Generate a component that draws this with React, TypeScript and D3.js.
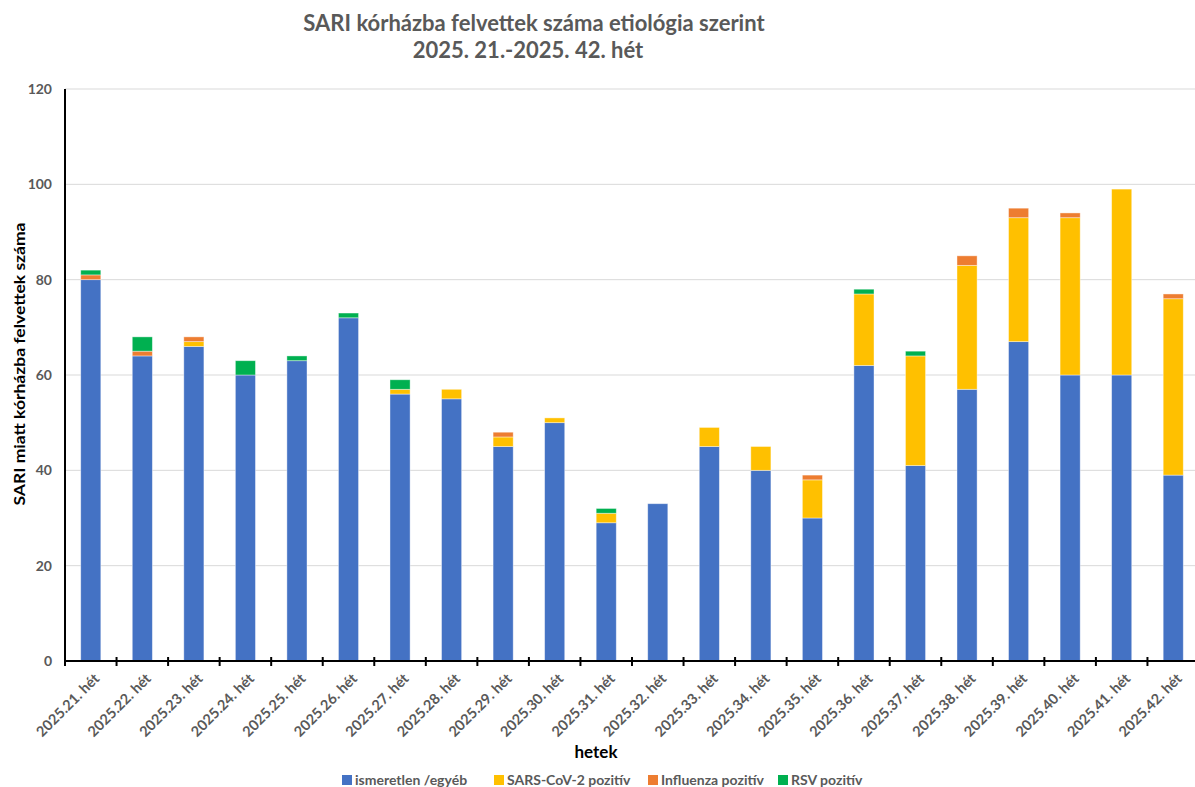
import * as d3 from "d3";

const weeks = [
  "2025.21. hét", "2025.22. hét", "2025.23. hét", "2025.24. hét", "2025.25. hét",
  "2025.26. hét", "2025.27. hét", "2025.28. hét", "2025.29. hét", "2025.30. hét",
  "2025.31. hét", "2025.32. hét", "2025.33. hét", "2025.34. hét", "2025.35. hét",
  "2025.36. hét", "2025.37. hét", "2025.38. hét", "2025.39. hét", "2025.40. hét",
  "2025.41. hét", "2025.42. hét",
];

const unknown = [80, 64, 66, 60, 63, 72, 56, 55, 45, 50, 29, 33, 45, 40, 30, 62, 41, 57, 67, 60, 60, 39];
const sarsCov2 = [0, 0, 1, 0, 0, 0, 1, 2, 2, 1, 2, 0, 4, 5, 8, 15, 23, 26, 26, 33, 39, 37];
const influenza = [1, 1, 1, 0, 0, 0, 0, 0, 1, 0, 0, 0, 0, 0, 1, 0, 0, 2, 2, 1, 0, 1];
const rsv = [1, 3, 0, 3, 1, 1, 2, 0, 0, 0, 1, 0, 0, 0, 0, 1, 1, 0, 0, 0, 0, 0];

const seriesNames = ["ismeretlen /egyéb", "SARS-CoV-2 pozitív", "Influenza pozitív", "RSV pozitív"];
const seriesColors = ["#4472C4", "#FFC000", "#ED7D31", "#00B050"];
const yTicks = [0, 20, 40, 60, 80, 100, 120];

const W = 1195;
const H = 787;
const margin = { top: 89, right: -4, bottom: 126, left: 65 };
const font = "Lato, 'Open Sans', sans-serif";
const gray = "#595959";

export default function App() {
  const keys = ["unknown", "sars", "flu", "rsv"];
  const rows = weeks.map((w, i) => ({
    week: w,
    unknown: unknown[i],
    sars: sarsCov2[i],
    flu: influenza[i],
    rsv: rsv[i],
  }));
  const stacked = d3.stack<any>().keys(keys)(rows);

  const x = d3
    .scaleBand()
    .domain(weeks)
    .range([margin.left, W - margin.right])
    .paddingInner(0.61)
    .paddingOuter(0.305);
  const y = d3.scaleLinear().domain([0, 120]).range([H - margin.bottom, margin.top]);
  const step = x.step();
  const x0 = margin.left;
  const x1 = W - margin.right;

  return (
    <svg width={W} height={H} style={{ position: "absolute", left: 0, top: 0, background: "#fff" }}>
      <rect width={W} height={H} fill="#fff" />
      {/* title */}
      <text x={534} y={31} textAnchor="middle" fontFamily={font} fontWeight="bold" fontSize={22} fill={gray}>
        SARI kórházba felvettek száma etiológia szerint
      </text>
      <text x={528} y={58} textAnchor="middle" fontFamily={font} fontWeight="bold" fontSize={22} fill={gray}>
        2025. 21.-2025. 42. hét
      </text>

      {/* gridlines */}
      {yTicks.slice(1).map((t) => (
        <line key={t} x1={x0} x2={x1} y1={y(t)} y2={y(t)} stroke="#d9d9d9" strokeWidth={1} />
      ))}

      {/* bars */}
      {stacked.map((s, si) => (
        <g key={s.key} fill={seriesColors[si]}>
          {s.map((d, i) =>
            d[1] - d[0] > 0 ? (
              <rect
                key={i}
                x={x(weeks[i])}
                y={y(d[1])}
                width={x.bandwidth()}
                height={y(d[0]) - y(d[1])}
                stroke="#ffffff"
                strokeOpacity={0.5}
                strokeWidth={0.8}
              />
            ) : null
          )}
        </g>
      ))}

      {/* y axis */}
      <line x1={x0} x2={x0} y1={y(120)} y2={y(0)} stroke="#000" strokeWidth={2} />
      {yTicks.map((t) => (
        <text key={t} x={52} y={y(t)} dy="0.35em" textAnchor="end" fontFamily={font} fontWeight="bold" fontSize={14} fill={gray}>
          {t}
        </text>
      ))}

      {/* x axis */}
      <line x1={x0} x2={x1} y1={y(0)} y2={y(0)} stroke="#000" strokeWidth={2} />
      {d3.range(weeks.length + 1).map((i) => (
        <line key={i} x1={x0 + i * step} x2={x0 + i * step} y1={y(0) - 4} y2={y(0) + 5} stroke="#000" strokeWidth={2} />
      ))}
      {weeks.map((w) => {
        const cx = (x(w) ?? 0) + x.bandwidth() / 2 + 6;
        const cy = y(0) + 15;
        return (
          <text
            key={w}
            transform={`translate(${cx},${cy}) rotate(-45)`}
            textAnchor="end"
            dy="0.35em"
            fontFamily={font}
            fontWeight="bold"
            fontSize={14.5}
            fill={gray}
          >
            {w}
          </text>
        );
      })}

      {/* axis titles */}
      <text x={596} y={758} textAnchor="middle" fontFamily={font} fontWeight="bold" fontSize={17} fill="#000">
        hetek
      </text>
      <text
        transform={`translate(25,364) rotate(-90)`}
        textAnchor="middle"
        fontFamily={font}
        fontWeight="bold"
        fontSize={16}
        textLength={283}
        lengthAdjust="spacingAndGlyphs"
        fill="#000"
      >
        SARI miatt kórházba felvettek száma
      </text>

      {/* legend */}
      {seriesNames.map((n, i) => {
        const lx = [342, 494, 648, 778][i];
        return (
          <g key={n} transform={`translate(${lx},780)`}>
            <rect x={0} y={-5} width={10} height={10} fill={seriesColors[i]} />
            <text x={13} y={0} dy="0.35em" fontFamily={font} fontWeight="bold" fontSize={14} fill={gray}>
              {n}
            </text>
          </g>
        );
      })}
    </svg>
  );
}
